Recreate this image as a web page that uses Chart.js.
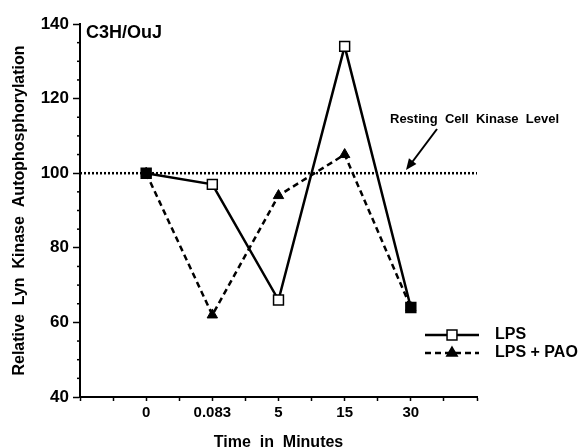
<!DOCTYPE html>
<html>
<head>
<meta charset="utf-8">
<script src="https://cdn.jsdelivr.net/npm/chart.js@4"></script>
<style>
  html, body { margin:0; padding:0; background:#fff; }
  #wrap { width:586px; height:447px; position:relative; }
</style>
</head>
<body>
<div id="wrap"><canvas id="c"></canvas></div>
<script>
'use strict';

// ---- Data ----
const timeLabels = ['0', '0.083', '5', '15', '30'];
const lps        = [100, 97, 66, 134, 64];
const lpsPao     = [100, 62, 94, 105, 64];
const restingX   = [-1, 5];
const restingY   = [100, 100];

const FONT = "'Liberation Sans', Arial, Helvetica, sans-serif";
const toXY = arr => arr.map((v, i) => ({ x: i, y: v }));

// ---- Extra drawing: label, arrow, legend, minor ticks ----
const extras = {
  id: 'extras',
  afterDraw(chart) {
    const { ctx, chartArea: a, scales: { x, y } } = chart;
    ctx.save();
    ctx.fillStyle = '#000'; ctx.strokeStyle = '#000';

    // minor ticks on y (every 5)
    ctx.lineWidth = 1.5;
    for (let v = 45; v < 140; v += 5) {
      if (v % 20 === 0) continue;
      const py = y.getPixelForValue(v);
      ctx.beginPath(); ctx.moveTo(a.left - 3, py); ctx.lineTo(a.left + 1, py); ctx.stroke();
    }

    // strain label
    ctx.font = 'bold 18px ' + FONT;
    ctx.textBaseline = 'middle'; ctx.textAlign = 'left';
    ctx.fillText('C3H/OuJ', a.left + 6, 33);

    // resting level label + arrow
    ctx.font = 'bold 13px ' + FONT;
    ctx.fillText('Resting  Cell  Kinase  Level', 390, 119);
    const x0 = 437, y0 = 129, x1 = 406, y1 = 170;
    ctx.lineWidth = 2;
    ctx.beginPath(); ctx.moveTo(x0, y0); ctx.lineTo(x1 + 4, y1 - 5); ctx.stroke();
    const ang = Math.atan2(y1 - y0, x1 - x0);
    ctx.beginPath();
    ctx.moveTo(x1, y1);
    ctx.lineTo(x1 - 12 * Math.cos(ang - 0.4), y1 - 12 * Math.sin(ang - 0.4));
    ctx.lineTo(x1 - 12 * Math.cos(ang + 0.4), y1 - 12 * Math.sin(ang + 0.4));
    ctx.closePath(); ctx.fill();

    // legend
    const rows = [[chart.data.datasets[0], 335], [chart.data.datasets[1], 353]];
    ctx.font = 'bold 16px ' + FONT;
    rows.forEach(([ds, ly]) => {
      ctx.lineWidth = ds.borderWidth;
      ctx.setLineDash(ds.borderDash || []);
      ctx.beginPath(); ctx.moveTo(425, ly); ctx.lineTo(479, ly); ctx.stroke();
      ctx.setLineDash([]);
      ctx.fillStyle = ds.legendFill; ctx.lineWidth = 1.5;
      Chart.helpers.drawPoint(ctx, { pointStyle: ds.pointStyle, radius: ds.pointRadius, borderWidth: 1.5 }, 452, ly);
      ctx.fillStyle = '#000';
      ctx.fillText(ds.label, 495, ly);
    });
    ctx.restore();
  }
};

new Chart(document.getElementById('c').getContext('2d'), {
  type: 'line',
  data: {
    datasets: [
      { label: 'LPS', data: toXY(lps), borderColor: '#000', borderWidth: 2.5,
        pointStyle: 'rect', pointRadius: 7, pointBorderWidth: 1.5, pointBorderColor: '#000',
        pointBackgroundColor: c => lps[c.dataIndex] === lpsPao[c.dataIndex] ? '#000' : '#fff',
        legendFill: '#fff', tension: 0, order: 2 },
      { label: 'LPS + PAO', data: toXY(lpsPao), borderColor: '#000', borderWidth: 2.5, borderDash: [6, 4],
        pointStyle: 'triangle', pointRadius: 6, pointBorderWidth: 1, pointBorderColor: '#000',
        pointBackgroundColor: '#000', legendFill: '#000', tension: 0, order: 1 },
      { label: 'Resting', data: restingX.map((v, i) => ({ x: v, y: restingY[i] })),
        borderColor: '#000', borderWidth: 2.5, borderDash: [2, 2], pointRadius: 0, order: 3 }
    ]
  },
  options: {
    responsive: true, maintainAspectRatio: false, animation: false,
    layout: { padding: { left: 0, top: 24, right: 109, bottom: 0 } },
    plugins: { legend: { display: false }, tooltip: { enabled: false } },
    scales: {
      x: {
        type: 'linear', min: -1, max: 5,
        afterFit: s => { s.height = 50; },
        border: { color: '#000', width: 2 },
        grid: { drawOnChartArea: false, color: '#000', tickLength: 4, tickWidth: 1.5 },
        ticks: { stepSize: 0.5, autoSkip: false, maxRotation: 0, padding: 3, color: '#000',
          font: { family: FONT, size: 15, weight: 'bold' },
          callback: v => (Number.isInteger(v) && v >= 0 && v < timeLabels.length) ? timeLabels[v] : '' },
        title: { display: true, text: 'Time  in  Minutes', color: '#000',
          font: { family: FONT, size: 16, weight: 'bold', lineHeight: 0.6 }, padding: 0 }
      },
      y: {
        min: 40, max: 140,
        afterFit: s => { s.width = 80; },
        border: { color: '#000', width: 2 },
        grid: { drawOnChartArea: false, color: '#000', tickLength: 7, tickWidth: 1.5 },
        ticks: { stepSize: 20, padding: 4, color: '#000', font: { family: FONT, size: 17, weight: 'bold' } },
        title: { display: true, text: 'Relative  Lyn  Kinase  Autophosphorylation', color: '#000',
          font: { family: FONT, size: 16, weight: 'bold', lineHeight: 1 }, padding: { top: 12, bottom: 0 } }
      }
    }
  },
  plugins: [extras]
});
</script>
</body>
</html>
